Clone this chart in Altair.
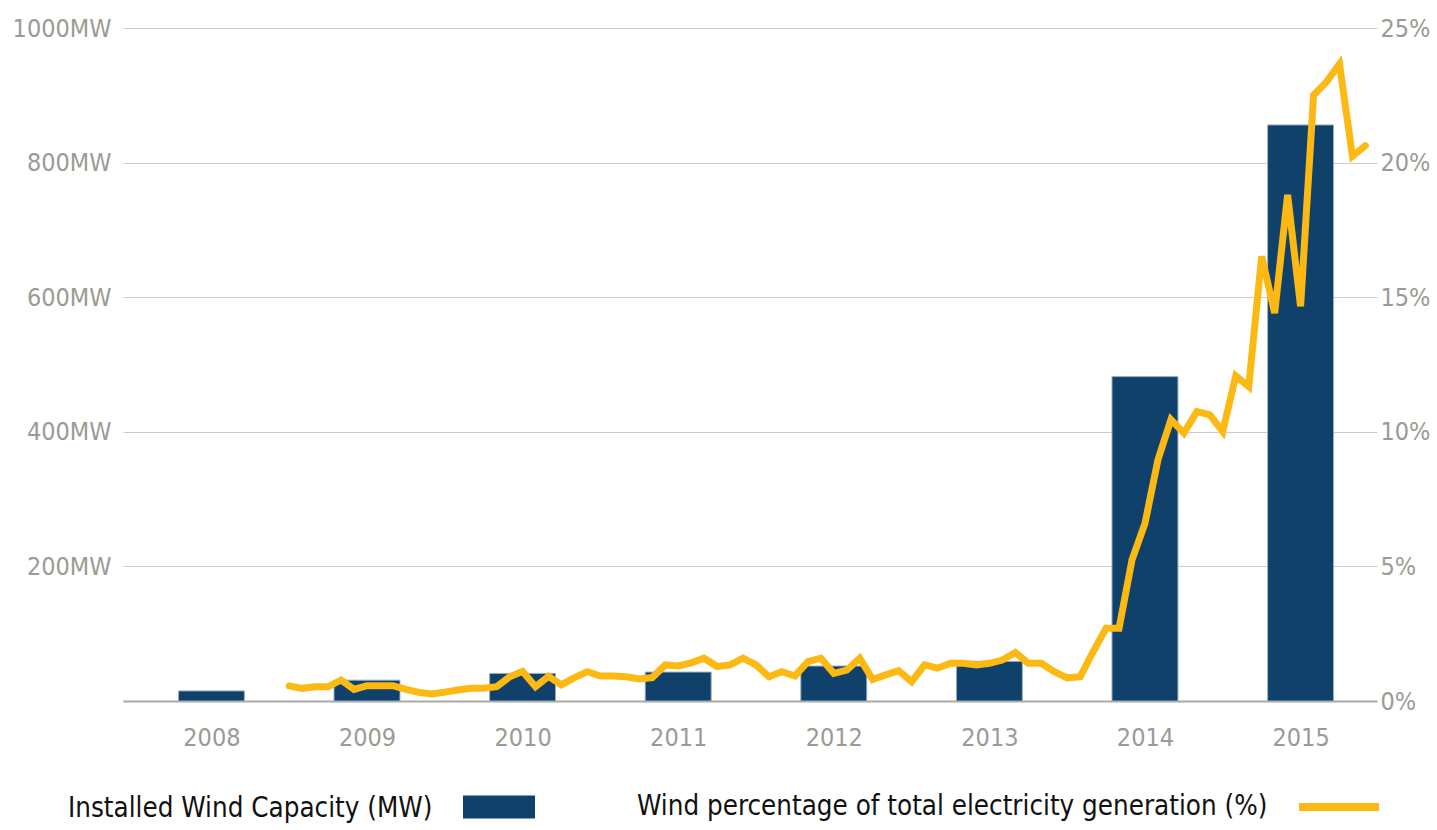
import altair as alt
import pandas as pd

# ---------------- data ----------------
years = [2008, 2009, 2010, 2011, 2012, 2013, 2014, 2015]
capacity_mw = [15, 31, 41, 43, 52, 59, 482, 856]

# monthly wind share of total electricity generation, Jan 2009 .. Dec 2015
month_labels = [f"{y}-{m:02d}" for y in range(2009, 2016) for m in range(1, 13)]
wind_pct = [
    0.56, 0.47, 0.53, 0.53, 0.78, 0.43, 0.57, 0.57, 0.57, 0.43, 0.32, 0.26,   # 2009
    0.33, 0.41, 0.47, 0.47, 0.53, 0.90, 1.10, 0.53, 0.92, 0.60, 0.87, 1.09,   # 2010
    0.93, 0.93, 0.90, 0.82, 0.87, 1.34, 1.30, 1.42, 1.59, 1.28, 1.34, 1.59,   # 2011
    1.34, 0.90, 1.09, 0.93, 1.46, 1.59, 1.03, 1.15, 1.59, 0.80, 0.97, 1.13,   # 2012
    0.72, 1.34, 1.22, 1.40, 1.40, 1.34, 1.40, 1.52, 1.80, 1.40, 1.40, 1.09,   # 2013
    0.86, 0.90, 1.83, 2.70, 2.70, 5.24, 6.60, 8.96, 10.45, 9.95, 10.75, 10.63,  # 2014
    10.01, 12.08, 11.68, 16.52, 14.41, 18.80, 14.66, 22.50, 23.00, 23.66, 20.24, 20.63,  # 2015
]

bar_name = "Installed Wind Capacity (MW)"
line_name = "Wind percentage of total electricity generation (%)"

bars_df = pd.DataFrame({
    "year": years,
    "t": [y + 0.5 for y in years],
    "mw": capacity_mw,
    "series": bar_name,
})
line_df = pd.DataFrame({
    "month": month_labels,
    "t": [int(s[:4]) + (int(s[5:]) - 1) / 12 for s in month_labels],
    "pct": wind_pct,
    "series": line_name,
})

# ---------------- styling ----------------
FONT = "Liberation Sans Narrow, Arial Narrow, DejaVu Sans Condensed, Liberation Sans, sans-serif"
GRAY = "#9b9b93"
BAR = "#0f416b"
LINE = "#fdb913"
W, H = 1254, 673
AX = 25
LEG = 27.5

xscale = alt.Scale(domain=[2007.964, 2015.959], nice=False, zero=False)
xaxis = alt.Axis(
    values=[y + 0.5 for y in years],
    labelExpr="floor(datum.value)",
    title=None, grid=False, ticks=False,
    domainColor="#a9a9a3", domainWidth=2,
    labelFont=FONT, labelFontSize=AX, labelColor=GRAY, labelPadding=24,
)

bars = alt.Chart(bars_df).mark_bar(size=66, stroke="#9fb1c3", strokeWidth=1).encode(
    x=alt.X("t:Q", scale=xscale, axis=xaxis),
    y=alt.Y(
        "mw:Q",
        scale=alt.Scale(domain=[0, 1000], nice=False),
        axis=alt.Axis(
            values=[0, 200, 400, 600, 800, 1000],
            labelExpr="datum.value == 0 ? '' : datum.value + 'MW'",
            title=None, ticks=False, domain=False,
            gridColor="#cccccc", gridWidth=1,
            labelFont=FONT, labelFontSize=AX, labelColor=GRAY, labelPadding=12,
        ),
    ),
    fill=alt.Fill(
        "series:N",
        scale=alt.Scale(range=[BAR]),
        legend=alt.Legend(
            orient="none", legendX=-55, legendY=743,
            title=bar_name, titleOrient="left", titleAnchor="middle",
            titleFont=FONT, titleFontSize=LEG, titleFontWeight="normal",
            titleColor="#111111", titlePadding=30, titleBaseline="top",
            titleLimit=2000,
            labelExpr="''", labelFontSize=1,
            symbolType="M-1,-0.32H1V0.32H-1Z", symbolSize=5184,
            symbolStrokeWidth=0, symbolOpacity=1,
        ),
    ),
)

line = alt.Chart(line_df).mark_line(
    strokeWidth=7, strokeCap="round", strokeJoin="miter"
).encode(
    x=alt.X("t:Q", scale=xscale, axis=xaxis),
    y=alt.Y(
        "pct:Q",
        scale=alt.Scale(domain=[0, 25], nice=False),
        axis=alt.Axis(
            orient="right",
            values=[0, 5, 10, 15, 20, 25],
            labelExpr="datum.value + '%'",
            title=None, ticks=False, domain=False, grid=False,
            labelFont=FONT, labelFontSize=AX, labelColor=GRAY, labelPadding=3,
        ),
    ),
    stroke=alt.Stroke(
        "series:N",
        scale=alt.Scale(range=[LINE]),
        legend=alt.Legend(
            orient="none", legendX=514, legendY=735,
            title=line_name, titleOrient="left", titleAnchor="middle",
            titleFont=FONT, titleFontSize=LEG, titleFontWeight="normal",
            titleColor="#111111", titlePadding=27, titleBaseline="top",
            titleLimit=2000,
            labelExpr="''", labelFontSize=1,
            symbolType="M-1,0H1", symbolSize=6400, symbolStrokeWidth=8,
        ),
    ),
)

chart = (
    alt.layer(bars, line)
    .resolve_scale(y="independent", fill="independent", stroke="independent")
    .properties(
        width=W, height=H,
        autosize=alt.AutoSizeParams(type="none"),
        padding={"left": 123, "top": 28, "right": 60, "bottom": 129},
        background="white",
    )
    .configure_view(stroke=None)
)

chart.save("out.html", embed_options={"renderer": "svg", "actions": False})
